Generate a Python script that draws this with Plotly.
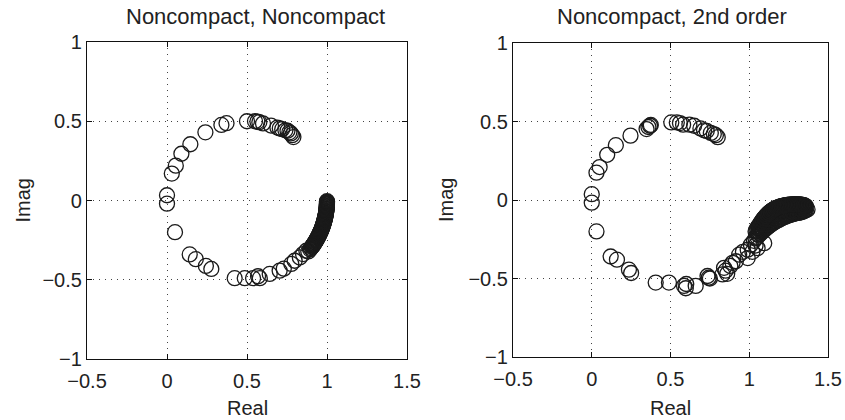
import plotly.graph_objects as go

# ---------------- data ----------------
# Left panel: "Noncompact, Noncompact"
left_real = [
    0.0, 0.0, 0.03, 0.055, 0.09, 0.146, 0.24, 0.34, 0.372, 0.50, 0.55, 0.565, 0.577, 0.60,
    0.65, 0.69, 0.705, 0.72, 0.74, 0.753, 0.765, 0.774, 0.782, 0.79,
    0.05, 0.142, 0.18, 0.243, 0.277, 0.423, 0.486, 0.538, 0.569, 0.58, 0.642, 0.704, 0.73,
    0.777, 0.798, 0.83, 0.85, 0.871,
    0.9045, 0.9096, 0.9145, 0.9193, 0.9240, 0.9286, 0.9330, 0.9373, 0.9415, 0.9455,
    0.9494, 0.9532, 0.9568, 0.9603, 0.9636, 0.9668, 0.9698, 0.9728, 0.9755, 0.9782,
    0.9806, 0.9830, 0.9851, 0.9872, 0.9891, 0.9908, 0.9924, 0.9938, 0.9951, 0.9963,
    0.9973, 0.9981, 0.9988, 0.9993, 0.9997, 0.9999, 0.8940, 0.8830,
    1.0000, 0.9998, 0.9995, 0.9991, 0.9985, 0.9977, 0.9968, 0.9957, 0.9945, 0.9931,
    0.9916, 0.9900, 0.9881, 0.9862, 0.9841, 0.9818, 0.9794, 0.9769, 0.9742, 0.9713,
    0.9683, 0.9652, 0.9619, 0.9585, 0.9550, 0.9513, 0.9475, 0.9435, 0.9394, 0.9352,
    0.9308, 0.9263, 0.9217, 0.9169, 0.9121, 0.9071, 0.8993,
]
left_imag = [
    0.033, -0.02, 0.17, 0.22, 0.295, 0.355, 0.43, 0.477, 0.488, 0.50, 0.50, 0.498, 0.494, 0.486,
    0.473, 0.46, 0.455, 0.45, 0.443, 0.44, 0.43, 0.423, 0.412, 0.40,
    -0.20, -0.34, -0.37, -0.413, -0.432, -0.49, -0.49, -0.49, -0.478, -0.49, -0.463, -0.443, -0.43,
    -0.40, -0.38, -0.359, -0.338, -0.317,
    -0.2939, -0.2868, -0.2796, -0.2723, -0.2650, -0.2575, -0.2500, -0.2424, -0.2347, -0.2270,
    -0.2192, -0.2113, -0.2034, -0.1954, -0.1873, -0.1792, -0.1710, -0.1628, -0.1545, -0.1462,
    -0.1378, -0.1294, -0.1210, -0.1125, -0.1040, -0.0954, -0.0868, -0.0782, -0.0696, -0.0609,
    -0.0523, -0.0436, -0.0349, -0.0262, -0.0175, -0.0087, -0.3078, -0.3214,
    -0.0044, -0.0131, -0.0218, -0.0305, -0.0392, -0.0479, -0.0566, -0.0653, -0.0739, -0.0825,
    -0.0911, -0.0997, -0.1082, -0.1167, -0.1252, -0.1336, -0.1420, -0.1504, -0.1587, -0.1669,
    -0.1751, -0.1833, -0.1913, -0.1994, -0.2073, -0.2153, -0.2231, -0.2309, -0.2386, -0.2462,
    -0.2538, -0.2613, -0.2687, -0.2760, -0.2832, -0.2904, -0.3009,
]

# Right panel: "Noncompact, 2nd order"
right_real = [
    0.0, 0.0, 0.03, 0.05, 0.098, 0.153, 0.246, 0.348, 0.36, 0.37, 0.375, 0.505, 0.54, 0.56,
    0.58, 0.62, 0.65, 0.69, 0.713, 0.73, 0.756, 0.775, 0.788, 0.80,
    0.03, 0.12, 0.16, 0.236, 0.25, 0.406, 0.49, 0.586, 0.597, 0.60, 0.66, 0.735, 0.743, 0.75,
    0.83, 0.84, 0.85, 0.86, 0.894, 0.915, 0.936, 0.99, 0.99, 1.01, 1.053, 1.095, 0.96, 1.02,
    0.88, 1.04,
    # dense band, upper edge
    1.04, 1.05, 1.06, 1.07, 1.08, 1.09, 1.10, 1.11, 1.12, 1.13, 1.14, 1.15, 1.16, 1.17,
    1.18, 1.19, 1.20, 1.21, 1.22, 1.23, 1.24, 1.25, 1.26, 1.27, 1.28, 1.29, 1.30, 1.31,
    1.32, 1.33, 1.34, 1.35, 1.36,
    # dense band, lower edge
    1.03, 1.04, 1.05, 1.06, 1.07, 1.08, 1.09, 1.10, 1.11, 1.12, 1.13, 1.14, 1.15, 1.16,
    1.17, 1.18, 1.19, 1.20, 1.21, 1.22, 1.23, 1.24, 1.25, 1.26, 1.27, 1.28, 1.29, 1.30,
    1.31, 1.32, 1.33, 1.34, 1.35, 1.36, 1.37,
    # dense band, middle
    1.06, 1.08, 1.10, 1.12, 1.14, 1.16, 1.18, 1.20, 1.22, 1.24, 1.26, 1.28, 1.30, 1.32, 1.34,
    1.07, 1.09, 1.11, 1.13, 1.15, 1.17, 1.19, 1.21, 1.23, 1.25, 1.27, 1.29, 1.31, 1.33, 1.35,
    # dense band, upper-middle
    1.065, 1.085, 1.105, 1.125, 1.145, 1.165, 1.185, 1.205, 1.225, 1.245, 1.265, 1.285,
    1.305, 1.325, 1.345,
    # dense band, lower-middle
    1.055, 1.075, 1.095, 1.115, 1.135, 1.155, 1.175, 1.195, 1.215, 1.235, 1.255, 1.275,
    1.295, 1.315, 1.335, 1.355,
    # dense band, top edge (in between)
    1.045, 1.055, 1.065, 1.075, 1.085, 1.095, 1.105, 1.115, 1.125, 1.135, 1.145, 1.155,
    1.165, 1.175, 1.185, 1.195, 1.205, 1.215, 1.225, 1.235, 1.245, 1.255, 1.265, 1.275,
    1.285, 1.295, 1.305, 1.315, 1.325, 1.335, 1.345, 1.355,
]
right_imag = [
    0.037, -0.017, 0.174, 0.21, 0.288, 0.349, 0.41, 0.452, 0.465, 0.473, 0.478, 0.494, 0.494, 0.49,
    0.48, 0.48, 0.473, 0.456, 0.444, 0.44, 0.427, 0.42, 0.413, 0.40,
    -0.20, -0.36, -0.38, -0.444, -0.465, -0.526, -0.526, -0.547, -0.562, -0.535, -0.547, -0.484,
    -0.495, -0.50, -0.474, -0.432, -0.45, -0.47, -0.40, -0.39, -0.348, -0.37, -0.317, -0.285,
    -0.306, -0.275, -0.33, -0.33, -0.42, -0.29,
    -0.20, -0.18, -0.165, -0.15, -0.135, -0.12, -0.108, -0.097, -0.087, -0.078, -0.07, -0.063,
    -0.057, -0.052, -0.048, -0.044, -0.041, -0.038, -0.036, -0.034, -0.032, -0.031, -0.03,
    -0.029, -0.028, -0.028, -0.028, -0.028, -0.029, -0.03, -0.032, -0.035, -0.04,
    -0.26, -0.245, -0.235, -0.225, -0.215, -0.205, -0.196, -0.187, -0.178, -0.17, -0.162,
    -0.155, -0.148, -0.142, -0.136, -0.13, -0.125, -0.12, -0.115, -0.11, -0.106, -0.102,
    -0.098, -0.095, -0.092, -0.089, -0.086, -0.084, -0.082, -0.08, -0.078, -0.074, -0.07,
    -0.065, -0.06,
    -0.20, -0.175, -0.15, -0.13, -0.112, -0.10, -0.09, -0.08, -0.073, -0.067, -0.062, -0.058,
    -0.055, -0.054, -0.053,
    -0.188, -0.162, -0.14, -0.121, -0.106, -0.095, -0.085, -0.076, -0.07, -0.064, -0.06,
    -0.056, -0.054, -0.053, -0.052,
    -0.176, -0.148, -0.124, -0.104, -0.088, -0.076, -0.067, -0.059, -0.054, -0.049, -0.046,
    -0.043, -0.042, -0.042, -0.043,
    -0.218, -0.196, -0.174, -0.155, -0.138, -0.124, -0.113, -0.102, -0.094, -0.086, -0.080,
    -0.075, -0.071, -0.068, -0.065, -0.060,
    -0.19, -0.172, -0.157, -0.142, -0.127, -0.114, -0.102, -0.092, -0.082, -0.074, -0.066,
    -0.060, -0.054, -0.050, -0.046, -0.042, -0.039, -0.037, -0.035, -0.033, -0.031, -0.030,
    -0.029, -0.028, -0.028, -0.028, -0.028, -0.028, -0.029, -0.031, -0.033, -0.037,
]

panel_titles = ["Noncompact, Noncompact", "Noncompact, 2nd order"]
x_label = "Real"
y_label = "Imag"
x_tickvals = [-0.5, 0, 0.5, 1, 1.5]
x_ticktext = ["\u22120.5", "0", "0.5", "1", "1.5"]
y_tickvals = [-1, -0.5, 0, 0.5, 1]
y_ticktext = ["\u22121", "\u22120.5", "0", "0.5", "1"]

# ---------------- figure ----------------
W, H = 845, 420
ML, MR, MT, MB = 50, 10, 35, 45
PW, PH = W - ML - MR, H - MT - MB


def px2x(px):
    return (px - ML) / PW


def py2y(py):
    return (H - MB - py) / PH


FONT = "Liberation Sans, Arial, Helvetica, sans-serif"
TXT = "#222222"
MK = "#1a1a1a"

fig = go.Figure()
marker = dict(symbol="circle-open", size=15, color=MK, line=dict(width=1.3, color=MK))
fig.add_trace(go.Scatter(x=left_real, y=left_imag, mode="markers", marker=marker,
                         xaxis="x", yaxis="y", showlegend=False))
fig.add_trace(go.Scatter(x=right_real, y=right_imag, mode="markers", marker=marker,
                         xaxis="x2", yaxis="y2", showlegend=False))

xdoms = [[px2x(87), px2x(407)], [px2x(513), px2x(828)]]
ydoms = [[py2y(359), py2y(42)], [py2y(357), py2y(43)]]

axis_common = dict(
    showline=True, linecolor="#111111", linewidth=1.2, mirror="ticks",
    ticks="inside", ticklen=5, tickwidth=1, tickcolor="#111111",
    showgrid=True, gridcolor="#444444", gridwidth=1, griddash="1px,5px",
    zeroline=False, automargin=False,
    tickfont=dict(family=FONT, size=20, color=TXT),
)
x_extra = dict(ticklabelstandoff=4)

fig.update_layout(
    width=W, height=H, margin=dict(l=ML, r=MR, t=MT, b=MB, autoexpand=False),
    paper_bgcolor="white", plot_bgcolor="white",
    font=dict(family=FONT, size=20, color=TXT),
    xaxis=dict(domain=xdoms[0], range=[-0.5, 1.5], tickvals=x_tickvals, ticktext=x_ticktext,
               anchor="y", **axis_common, **x_extra),
    yaxis=dict(domain=ydoms[0], range=[-1, 1], tickvals=y_tickvals, ticktext=y_ticktext,
               anchor="x", **axis_common),
    xaxis2=dict(domain=xdoms[1], range=[-0.5, 1.5], tickvals=x_tickvals, ticktext=x_ticktext,
                anchor="y2", **axis_common, **x_extra),
    yaxis2=dict(domain=ydoms[1], range=[-1, 1], tickvals=y_tickvals, ticktext=y_ticktext,
                anchor="x2", **axis_common),
)

title_cx = [255, 672]
axis_cx = [247, 670]
imag_cx = [22, 446]
annotations = []
for i in range(2):
    yc = (ydoms[i][0] + ydoms[i][1]) / 2
    annotations.append(dict(text=panel_titles[i], x=px2x(title_cx[i]), y=py2y(17),
                            xref="paper", yref="paper", showarrow=False,
                            xanchor="center", yanchor="middle",
                            font=dict(family=FONT, size=22, color=TXT)))
    annotations.append(dict(text=x_label, x=px2x(axis_cx[i]), y=py2y(408),
                            xref="paper", yref="paper", showarrow=False,
                            xanchor="center", yanchor="middle",
                            font=dict(family=FONT, size=20, color=TXT)))
    annotations.append(dict(text=y_label, x=px2x(imag_cx[i]), y=yc,
                            xref="paper", yref="paper", showarrow=False, textangle=-90,
                            xanchor="center", yanchor="middle",
                            font=dict(family=FONT, size=20, color=TXT)))
fig.update_layout(annotations=annotations)

fig.write_html("out.html", config={"displayModeBar": False},
               post_script="document.body.style.margin='0px';document.body.style.padding='0px';")
